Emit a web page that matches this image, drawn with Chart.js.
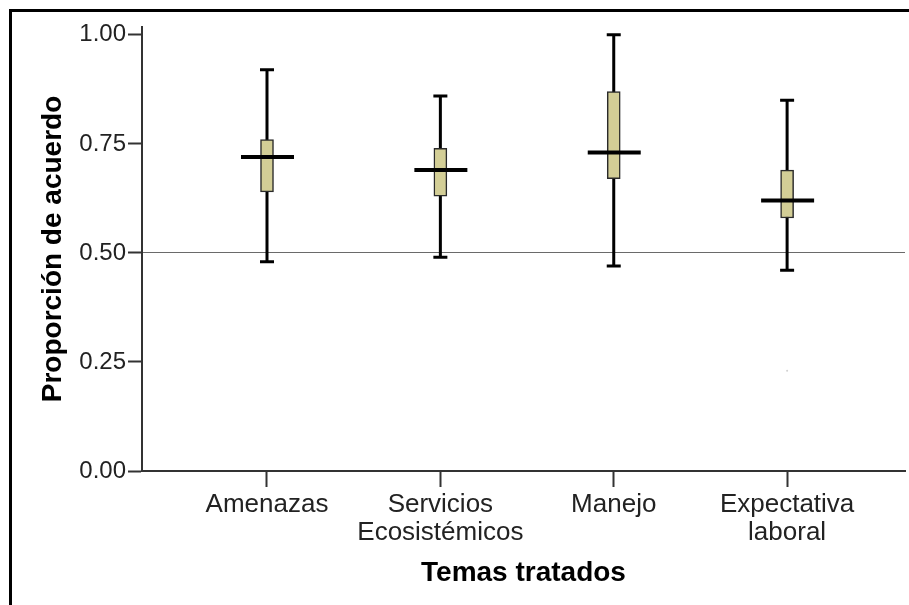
<!DOCTYPE html>
<html>
<head>
<meta charset="utf-8">
<script src="https://cdn.jsdelivr.net/npm/chart.js@4.4.1/dist/chart.umd.min.js"></script>
<style>
  html, body { margin: 0; padding: 0; background: #fff; overflow: hidden; }
  #wrap { position: relative; width: 909px; height: 605px; }
  #frame {
    position: absolute; left: 9px; top: 9px; right: 0; bottom: 0;
    border-top: 3px solid #000; border-left: 3px solid #000;
    pointer-events: none;
  }
</style>
</head>
<body>
<div id="wrap">
  <canvas id="boxChart"></canvas>
  <div id="frame"></div>
</div>
<script>
// Box plot values (proportion of agreement)
const categories = [['Amenazas'], ['Servicios', 'Ecosistémicos'], ['Manejo'], ['Expectativa', 'laboral']];
const whiskerLow  = [0.48, 0.49, 0.47, 0.46];
const q1          = [0.64, 0.63, 0.67, 0.58];
const median      = [0.72, 0.69, 0.73, 0.62];
const q3          = [0.76, 0.74, 0.87, 0.69];
const whiskerHigh = [0.92, 0.86, 1.00, 0.85];
const outliers    = [{ x: 3, y: 0.23 }];
const yTicks      = [0, 0.25, 0.5, 0.75, 1.0];

const fontFamily = "'Liberation Sans', Arial, sans-serif";

// whiskers under the boxes, medians on top
const boxPlotLines = {
  id: 'boxPlotLines',
  beforeDatasetsDraw(chart) {
    const { ctx, scales: { x, y } } = chart;
    ctx.save();
    ctx.strokeStyle = '#000';
    ctx.lineWidth = 3;
    whiskerLow.forEach((lo, i) => {
      const xp = x.getPixelForValue(i);
      const yLo = y.getPixelForValue(lo);
      const yHi = y.getPixelForValue(whiskerHigh[i]);
      ctx.beginPath();
      ctx.moveTo(xp, yLo);
      ctx.lineTo(xp, yHi);
      ctx.moveTo(xp - 7, yLo);
      ctx.lineTo(xp + 7, yLo);
      ctx.moveTo(xp - 7, yHi);
      ctx.lineTo(xp + 7, yHi);
      ctx.stroke();
    });
    ctx.restore();
  },
  afterDatasetsDraw(chart) {
    const { ctx, scales: { x, y } } = chart;
    ctx.save();
    ctx.strokeStyle = '#000';
    ctx.lineWidth = 4;
    median.forEach((m, i) => {
      const xp = x.getPixelForValue(i);
      const yp = y.getPixelForValue(m);
      ctx.beginPath();
      ctx.moveTo(xp - 26, yp);
      ctx.lineTo(xp + 27, yp);
      ctx.stroke();
    });
    ctx.restore();
  }
};

const ctx = document.getElementById('boxChart').getContext('2d');
const boxChart = new Chart(ctx, {
  type: 'bar',
  data: {
    datasets: [{
      label: 'Caja',
      data: categories.map((c, i) => ({ x: i, y: [q1[i], q3[i]] })),
      backgroundColor: '#d3ce96',
      borderColor: '#2a2a2a',
      borderWidth: 1.5,
      borderSkipped: false,
      barThickness: 13
    }, {
      type: 'scatter',
      label: 'Atípicos',
      data: outliers,
      pointRadius: 1,
      pointBackgroundColor: '#d0d0d0',
      pointBorderWidth: 0
    }]
  },
  options: {
    responsive: true,
    maintainAspectRatio: false,
    animation: false,
    layout: { padding: { left: 0, top: 27, right: 0, bottom: 0 } },
    plugins: {
      legend: { display: false },
      tooltip: { enabled: false }
    },
    scales: {
      x: {
        type: 'linear',
        offset: false,
        min: -0.721,
        max: 3.68,
        afterBuildTicks: s => { s.ticks = categories.map((c, i) => ({ value: i })); },
        afterFit: s => { s.height = 134; },
        border: { display: true, color: '#333', width: 2 },
        grid: { offset: false, color: 'transparent', drawTicks: true, tickLength: 16, tickColor: '#333', tickWidth: 2 },
        ticks: {
          autoSkip: false,
          maxRotation: 0,
          padding: 4,
          color: '#222',
          font: { family: fontFamily, size: 26, lineHeight: 1.07 },
          callback: v => categories[v]
        },
        title: {
          display: true,
          text: 'Temas tratados',
          color: '#000',
          font: { family: fontFamily, size: 28, weight: 'bold' },
          padding: { top: 0, bottom: 15 }
        }
      },
      y: {
        min: 0,
        max: 1.018,
        afterBuildTicks: s => { s.ticks = yTicks.map(v => ({ value: v })); },
        afterFit: s => { s.width = 142; },
        border: { display: true, color: '#333', width: 2 },
        grid: {
          color: c => (c.tick && c.tick.value === 0.5 ? '#6a6a6a' : 'transparent'),
          lineWidth: 1,
          drawTicks: true,
          tickLength: 14,
          tickColor: '#333',
          tickWidth: 2
        },
        ticks: {
          padding: 2,
          color: '#222',
          font: { family: fontFamily, size: 24 },
          callback: v => v.toFixed(2)
        },
        title: {
          display: true,
          text: 'Proporción de acuerdo',
          color: '#000',
          font: { family: fontFamily, size: 28, weight: 'bold' },
          padding: { top: 36, bottom: 0 }
        }
      }
    }
  },
  plugins: [boxPlotLines]
});
</script>
</body>
</html>
